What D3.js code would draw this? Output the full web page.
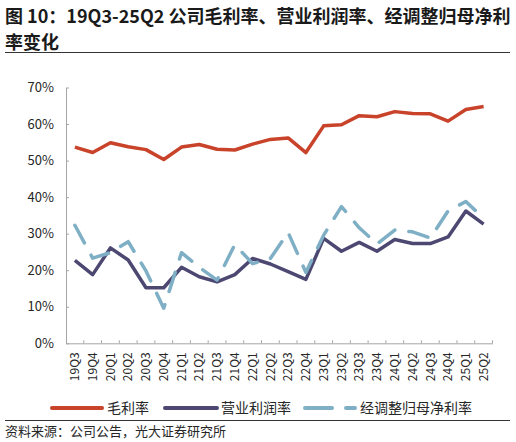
<!DOCTYPE html>
<html><head><meta charset="utf-8">
<script src="https://cdn.jsdelivr.net/npm/d3@7/dist/d3.min.js"></script>
<style>
html,body{margin:0;padding:0;background:#fff;}
text{font-family:"Noto Sans CJK SC","Noto Sans",sans-serif;}
</style></head>
<body>
<svg id="c" width="516" height="442"></svg>
<script>
const categories = ["19Q3","19Q4","20Q1","20Q2","20Q3","20Q4","21Q1","21Q2","21Q3","21Q4","22Q1","22Q2","22Q3","22Q4","23Q1","23Q2","23Q3","23Q4","24Q1","24Q2","24Q3","24Q4","25Q1","25Q2"];
const grossMargin = [53.7,52.2,54.9,53.8,53.0,50.3,53.7,54.4,53.1,52.9,54.5,55.8,56.2,52.2,59.5,59.8,62.3,62.0,63.4,62.9,62.8,60.8,64.0,64.8];
const operatingMargin = [22.7,18.8,26.1,22.8,15.2,15.2,20.8,18.2,16.8,18.8,23.2,21.7,19.6,17.5,28.7,25.2,27.6,25.2,28.4,27.3,27.3,29.1,36.2,32.6];
const adjNetMargin = [32.3,23.3,24.8,27.8,19.8,9.6,24.8,20.8,17.3,27.0,21.8,23.2,30.3,19.4,29.6,37.4,31.6,27.2,31.0,30.5,28.8,36.2,38.8,34.2];
const yTicks = [0,10,20,30,40,50,60,70];
const seriesNames = ["毛利率","营业利润率","经调整归母净利率"];
const colors = ["#C8432A","#4D4872","#7FAFC5"];

const svg = d3.select("#c");
// Title
svg.append("text").attr("x",5).attr("y",23).attr("font-size",18).attr("font-weight","bold").attr("fill","#1a1a1a")
  .text("图 10：19Q3-25Q2 公司毛利率、营业利润率、经调整归母净利");
svg.append("text").attr("x",5).attr("y",49).attr("font-size",18).attr("font-weight","bold").attr("fill","#1a1a1a")
  .text("率变化");
svg.append("line").attr("x1",5).attr("x2",510).attr("y1",52.5).attr("y2",52.5).attr("stroke","#333").attr("stroke-width",1);

const x = d3.scaleBand().domain(categories).range([66,492.5]).padding(0);
const y = d3.scaleLinear().domain([0,70]).range([343.3,87.5]);

// Y axis
const yAxis = d3.axisLeft(y).tickValues(yTicks).tickFormat(d=>d+"%").tickSizeInner(-3).tickSizeOuter(0).tickPadding(12);
const gy = svg.append("g").attr("transform","translate(66,0)").call(yAxis);
gy.select(".domain").attr("stroke","#a6a6a6");
gy.selectAll(".tick line").attr("stroke","#a6a6a6");
gy.selectAll(".tick text").attr("font-size",13).attr("fill","#262626").attr("font-family","'Noto Sans CJK SC',sans-serif");

// X axis
const xAxis = d3.axisBottom(x).tickSize(0).tickSizeOuter(0);
const gx = svg.append("g").attr("transform","translate(0,343.3)").call(xAxis);
gx.select(".domain").attr("stroke","#a6a6a6");
gx.selectAll(".tick text").attr("font-size",12).attr("fill","#262626")
  .attr("transform","rotate(-90)").attr("text-anchor","end")
  .attr("x",-9).attr("y",0).attr("dy","0.35em");
// tick marks at band boundaries, pointing up
const bounds = categories.map(c=>x(c)).concat([x.range()[1]]);
svg.append("g").selectAll("line").data(bounds.slice(1)).join("line")
  .attr("x1",d=>d).attr("x2",d=>d).attr("y1",343.3).attr("y2",340.3)
  .attr("stroke","#a6a6a6");

const cx = d=>x(d)+x.bandwidth()/2;
const line = d3.line().x(d=>cx(d[0])).y(d=>y(d[1]));
const data = [grossMargin, operatingMargin, adjNetMargin];
data.forEach((vals,i)=>{
  const p = svg.append("path").datum(categories.map((c,k)=>[c,vals[k]]))
    .attr("d",line).attr("fill","none").attr("stroke",colors[i]).attr("stroke-width",3.5)
    .attr("stroke-linejoin","round");
  if(i===2){ p.attr("stroke-dasharray","20,14").attr("stroke-linecap","round"); }
});

// Legend
const legend = [
  {lx:52, lw:50, tx:107},
  {lx:165, lw:52, tx:221},
  {lx:305, lw:50, tx:360}
];
legend.forEach((l,i)=>{
  const ln = svg.append("line").attr("x1",l.lx).attr("x2",l.lx+l.lw).attr("y1",408).attr("y2",408)
    .attr("stroke",colors[i]).attr("stroke-width",4).attr("stroke-linecap","round");
  if(i===2) ln.attr("stroke-dasharray","27,14");
  svg.append("text").attr("x",l.tx).attr("y",413).attr("font-size",14).attr("fill","#262626").text(seriesNames[i]);
});

// Footer
svg.append("line").attr("x1",5).attr("x2",510).attr("y1",420.5).attr("y2",420.5).attr("stroke","#333").attr("stroke-width",1);
svg.append("text").attr("x",5).attr("y",436).attr("font-size",13).attr("fill","#262626").text("资料来源：公司公告，光大证券研究所");
</script>
</body></html>
